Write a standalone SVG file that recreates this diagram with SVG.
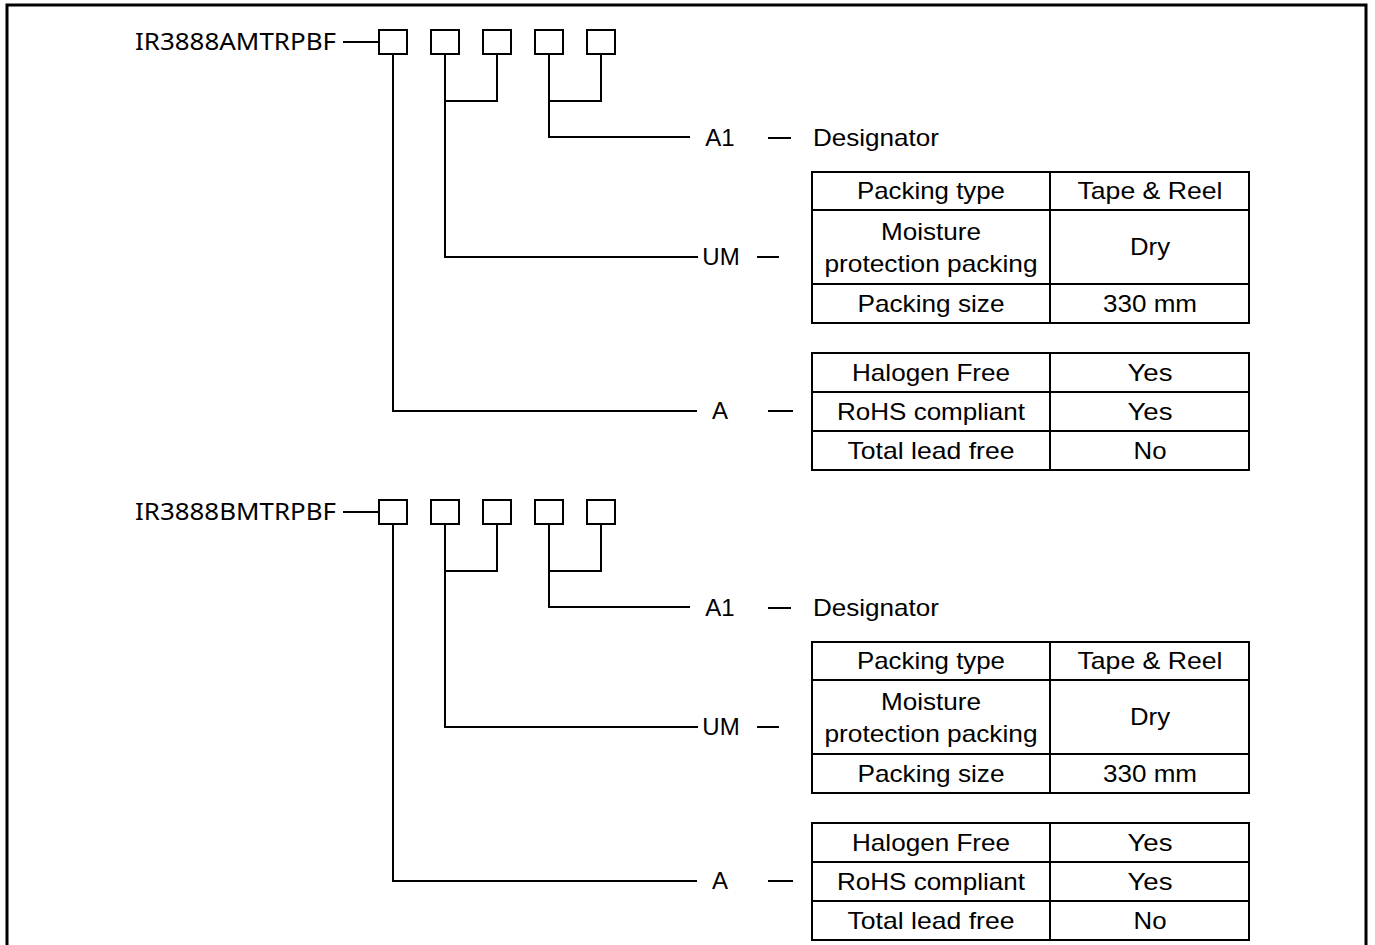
<svg xmlns="http://www.w3.org/2000/svg" width="1375" height="945" viewBox="0 0 1375 945">
<style>
.ln{fill:none;stroke:#000;stroke-width:2}
.bx{fill:#fff;stroke:#000;stroke-width:2}
.tb{fill:#fff;stroke:#000;stroke-width:2}
.t{font-family:"Liberation Sans",Arial,sans-serif;font-size:24px;fill:#000}
.c{text-anchor:middle}
.pn{font-family:"Noto Sans","Open Sans",sans-serif;font-size:23px;fill:#000}
</style>
<rect x="0" y="0" width="1375" height="945" fill="#fff"/>
<path d="M7,950 V5 H1366 V950" fill="none" stroke="#000" stroke-width="3"/>

<!-- Block A -->
<g id="block-a">
  <g id="a-part">
    <text class="pn" x="135" y="50" textLength="201" lengthAdjust="spacingAndGlyphs">IR3888AMTRPBF</text>
  </g>
  <g id="a-boxes">
    <rect class="bx" x="379" y="30" width="28" height="24"/>
    <rect class="bx" x="431" y="30" width="28" height="24"/>
    <rect class="bx" x="483" y="30" width="28" height="24"/>
    <rect class="bx" x="535" y="30" width="28" height="24"/>
    <rect class="bx" x="587" y="30" width="28" height="24"/>
  </g>
  <g id="a-connectors">
    <path class="ln" d="M343,42 H379"/>
    <path class="ln" d="M393,54 V411 H697"/>
    <path class="ln" d="M445,54 V257 H698"/>
    <path class="ln" d="M497,54 V101 H445"/>
    <path class="ln" d="M549,54 V137 H690"/>
    <path class="ln" d="M601,54 V101 H549"/>
    <path class="ln" d="M768,138 H791"/>
    <path class="ln" d="M757,257 H779"/>
    <path class="ln" d="M768,411 H793"/>
  </g>
  <g id="a-a1">
    <text class="t c" x="720" y="146">A1</text>
    <text class="t" x="813" y="146" textLength="126" lengthAdjust="spacingAndGlyphs">Designator</text>
  </g>
  <g id="a-um">
    <text class="t c" x="721" y="265">UM</text>
    <rect class="tb" x="812" y="172" width="437" height="151"/>
    <path class="ln" d="M1050,172 V323 M812,210 H1249 M812,284 H1249"/>
    <text class="t c" x="931" y="199" textLength="148" lengthAdjust="spacingAndGlyphs">Packing type</text>
    <text class="t c" x="1150" y="199" textLength="145" lengthAdjust="spacingAndGlyphs">Tape &amp; Reel</text>
    <text class="t c" x="931" y="240" textLength="100" lengthAdjust="spacingAndGlyphs">Moisture</text>
    <text class="t c" x="931" y="272" textLength="213" lengthAdjust="spacingAndGlyphs">protection packing</text>
    <text class="t c" x="1150" y="255" textLength="40" lengthAdjust="spacingAndGlyphs">Dry</text>
    <text class="t c" x="931" y="312" textLength="147" lengthAdjust="spacingAndGlyphs">Packing size</text>
    <text class="t c" x="1150" y="312" textLength="94" lengthAdjust="spacingAndGlyphs">330 mm</text>
  </g>
  <g id="a-a">
    <text class="t c" x="720" y="419">A</text>
    <rect class="tb" x="812" y="353" width="437" height="117"/>
    <path class="ln" d="M1050,353 V470 M812,392 H1249 M812,431 H1249"/>
    <text class="t c" x="931" y="381" textLength="158" lengthAdjust="spacingAndGlyphs">Halogen Free</text>
    <text class="t c" x="1150" y="381" textLength="45" lengthAdjust="spacingAndGlyphs">Yes</text>
    <text class="t c" x="931" y="420" textLength="188" lengthAdjust="spacingAndGlyphs">RoHS compliant</text>
    <text class="t c" x="1150" y="420" textLength="45" lengthAdjust="spacingAndGlyphs">Yes</text>
    <text class="t c" x="931" y="459" textLength="167" lengthAdjust="spacingAndGlyphs">Total lead free</text>
    <text class="t c" x="1150" y="459" textLength="33" lengthAdjust="spacingAndGlyphs">No</text>
  </g>
</g>

<!-- Block B -->
<g id="block-b" transform="translate(0,470)">
  <g id="b-part">
    <text class="pn" x="135" y="50" textLength="201" lengthAdjust="spacingAndGlyphs">IR3888BMTRPBF</text>
  </g>
  <g id="b-boxes">
    <rect class="bx" x="379" y="30" width="28" height="24"/>
    <rect class="bx" x="431" y="30" width="28" height="24"/>
    <rect class="bx" x="483" y="30" width="28" height="24"/>
    <rect class="bx" x="535" y="30" width="28" height="24"/>
    <rect class="bx" x="587" y="30" width="28" height="24"/>
  </g>
  <g id="b-connectors">
    <path class="ln" d="M343,42 H379"/>
    <path class="ln" d="M393,54 V411 H697"/>
    <path class="ln" d="M445,54 V257 H698"/>
    <path class="ln" d="M497,54 V101 H445"/>
    <path class="ln" d="M549,54 V137 H690"/>
    <path class="ln" d="M601,54 V101 H549"/>
    <path class="ln" d="M768,138 H791"/>
    <path class="ln" d="M757,257 H779"/>
    <path class="ln" d="M768,411 H793"/>
  </g>
  <g id="b-a1">
    <text class="t c" x="720" y="146">A1</text>
    <text class="t" x="813" y="146" textLength="126" lengthAdjust="spacingAndGlyphs">Designator</text>
  </g>
  <g id="b-um">
    <text class="t c" x="721" y="265">UM</text>
    <rect class="tb" x="812" y="172" width="437" height="151"/>
    <path class="ln" d="M1050,172 V323 M812,210 H1249 M812,284 H1249"/>
    <text class="t c" x="931" y="199" textLength="148" lengthAdjust="spacingAndGlyphs">Packing type</text>
    <text class="t c" x="1150" y="199" textLength="145" lengthAdjust="spacingAndGlyphs">Tape &amp; Reel</text>
    <text class="t c" x="931" y="240" textLength="100" lengthAdjust="spacingAndGlyphs">Moisture</text>
    <text class="t c" x="931" y="272" textLength="213" lengthAdjust="spacingAndGlyphs">protection packing</text>
    <text class="t c" x="1150" y="255" textLength="40" lengthAdjust="spacingAndGlyphs">Dry</text>
    <text class="t c" x="931" y="312" textLength="147" lengthAdjust="spacingAndGlyphs">Packing size</text>
    <text class="t c" x="1150" y="312" textLength="94" lengthAdjust="spacingAndGlyphs">330 mm</text>
  </g>
  <g id="b-a">
    <text class="t c" x="720" y="419">A</text>
    <rect class="tb" x="812" y="353" width="437" height="117"/>
    <path class="ln" d="M1050,353 V470 M812,392 H1249 M812,431 H1249"/>
    <text class="t c" x="931" y="381" textLength="158" lengthAdjust="spacingAndGlyphs">Halogen Free</text>
    <text class="t c" x="1150" y="381" textLength="45" lengthAdjust="spacingAndGlyphs">Yes</text>
    <text class="t c" x="931" y="420" textLength="188" lengthAdjust="spacingAndGlyphs">RoHS compliant</text>
    <text class="t c" x="1150" y="420" textLength="45" lengthAdjust="spacingAndGlyphs">Yes</text>
    <text class="t c" x="931" y="459" textLength="167" lengthAdjust="spacingAndGlyphs">Total lead free</text>
    <text class="t c" x="1150" y="459" textLength="33" lengthAdjust="spacingAndGlyphs">No</text>
  </g>
</g>
</svg>
